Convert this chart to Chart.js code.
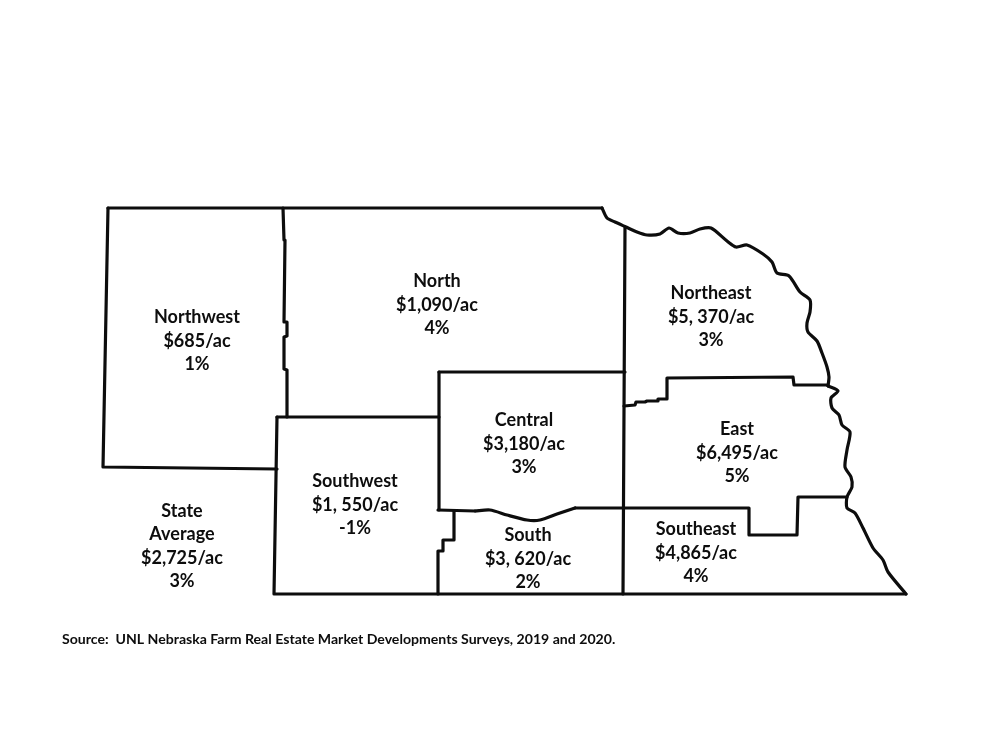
<!DOCTYPE html>
<html>
<head>
<meta charset="utf-8">
<title>Nebraska farm real estate values by region</title>
<script src="https://cdn.jsdelivr.net/npm/chart.js@4"></script>
<style>
  html, body { margin: 0; padding: 0; background: #fff; }
  canvas { display: block; }
</style>
</head>
<body>
<canvas id="mapChart" width="1000" height="750"></canvas>
<script>
// region table
const regionNames = ['Northwest', 'North', 'Northeast', 'Central', 'East', 'Southwest', 'South', 'Southeast'];
const regionValues = ['$685/ac', '$1,090/ac', '$5, 370/ac', '$3,180/ac', '$6,495/ac', '$1, 550/ac', '$3, 620/ac', '$4,865/ac'];
const regionChanges = ['1%', '4%', '3%', '3%', '5%', '-1%', '2%', '4%'];
const regionCenterX = [197, 437, 711, 524, 737, 355, 528, 696];
const regionFirstLineY = [317, 281, 293, 420, 429, 481, 535, 529];

const stateLines = ['State', 'Average', '$2,725/ac', '3%'];
const sourceNote = 'Source:  UNL Nebraska Farm Real Estate Market Developments Surveys, 2019 and 2020.';

// borders, in picture coordinates [x, y]
const northLine = [[108, 208], [602, 208]];
const missouriNorth = [[602, 208], [607, 218], [615, 222], [626, 227], [637, 232], [647, 235], [660, 234], [669, 228], [678, 233], [690, 233], [700, 229], [711, 228], [727, 241], [736, 247], [747, 245], [763, 254], [772, 262], [777, 273], [789, 276], [800, 292], [810, 300], [810, 312], [807, 323], [808, 332], [817, 341], [822, 353], [827, 367], [829, 377], [828, 386]];
const missouriEast = [[828, 386], [838, 391], [831, 398], [832, 408], [839, 415], [842, 425], [850, 432], [847, 450], [845, 467], [851, 477], [852, 487], [847, 497], [847, 508], [855, 513], [863, 528], [873, 548], [883, 560], [888, 572], [906, 594]];
const bottomBorder = [[906, 594], [274, 594], [277, 417]];
const westBorder = [[277, 469], [103, 467], [108, 208]];
const northwestEdge = [[283, 208], [284, 240], [285, 240], [284, 322], [287, 322], [287, 336], [284, 337], [284, 369], [287, 370], [287, 417]];
const southwestTop = [[277, 417], [439, 417]];
const centralWest = [[439, 372], [439, 510]];
const centralTop = [[439, 372], [625, 372]];
const northeastWest = [[625, 227], [623, 594]];
const eastTop = [[624, 406], [635, 405], [636, 402], [645, 402], [647, 401], [658, 401], [658, 399], [667, 399], [667, 378], [793, 377], [794, 385], [828, 385]];
const southCurve = [[475, 511], [490, 510], [507, 515], [527, 520], [540, 520], [557, 514], [575, 508]];
const southeastTop = [[438, 510], [475, 511]];
const eastSouth = [[575, 508], [749, 508], [749, 535], [797, 535], [798, 497], [847, 497]];
const southWest = [[454, 511], [454, 540], [443, 540], [443, 551], [438, 551], [438, 594]];

const straightBorders = [northLine, bottomBorder, westBorder, northwestEdge, southwestTop, centralWest, centralTop, northeastWest, eastTop, southeastTop, eastSouth, southWest];
const riverBorders = [missouriNorth, missouriEast, southCurve];

const inkColor = '#0d0d0d';
const labelFont = 'bold 18px Lato, "Open Sans", sans-serif';
const sourceFont = 'bold 14.1px Lato, "Open Sans", sans-serif';

const textPlugin = {
    id: 'mapText',
    afterDatasetsDraw(chart) {
        const ctx = chart.ctx;
        const x = chart.scales.x;
        const y = chart.scales.y;
        ctx.save();
        ctx.fillStyle = inkColor;
        ctx.textBaseline = 'middle';
        ctx.textAlign = 'center';
        ctx.font = labelFont;
        regionNames.forEach((name, i) => {
            [name, regionValues[i], regionChanges[i]].forEach((line, j) => {
                ctx.fillText(line, x.getPixelForValue(regionCenterX[i]), y.getPixelForValue(regionFirstLineY[i] + j * 23.7));
            });
        });
        stateLines.forEach((line, j) => {
            ctx.fillText(line, x.getPixelForValue(182), y.getPixelForValue(511 + j * 23.5));
        });
        ctx.textAlign = 'left';
        ctx.font = sourceFont;
        ctx.fillText(sourceNote, x.getPixelForValue(62), y.getPixelForValue(639));
        ctx.restore();
    }
};

function borderDataset(border, tension) {
    return {
        data: border.map(p => ({ x: p[0], y: p[1] })),
        showLine: true,
        borderColor: inkColor,
        borderWidth: 3.2,
        borderJoinStyle: 'round',
        borderCapStyle: 'round',
        pointRadius: 0,
        tension: tension
    };
}

new Chart(document.getElementById('mapChart'), {
    type: 'scatter',
    data: {
        datasets: straightBorders.map(b => borderDataset(b, 0)).concat(riverBorders.map(b => borderDataset(b, 0.25)))
    },
    options: {
        responsive: false,
        animation: false,
        layout: { padding: 0 },
        plugins: { legend: { display: false }, tooltip: { enabled: false }, title: { display: false } },
        scales: {
            x: { type: 'linear', min: 0, max: 1000, display: false },
            y: { type: 'linear', min: 0, max: 750, reverse: true, display: false }
        }
    },
    plugins: [textPlugin]
});
</script>
</body>
</html>
